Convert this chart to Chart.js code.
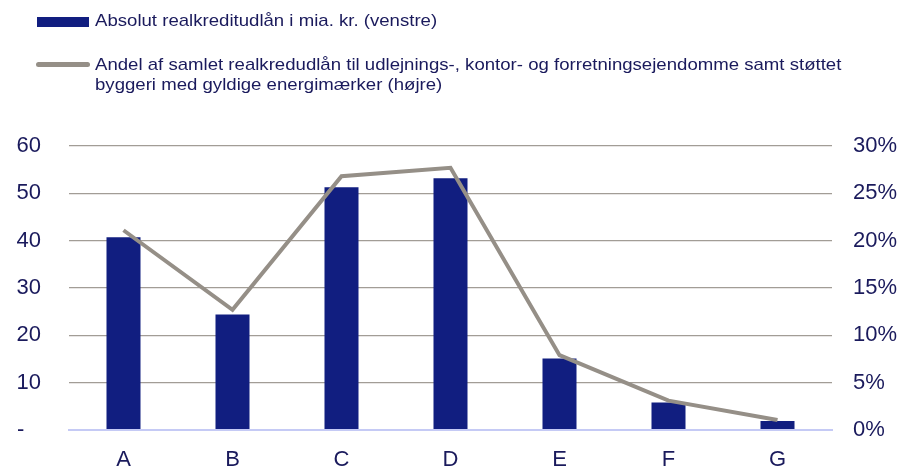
<!DOCTYPE html>
<html>
<head>
<meta charset="utf-8">
<script src="https://cdn.jsdelivr.net/npm/chart.js@4"></script>
<style>
    html, body { margin: 0; padding: 0; background: #ffffff; }
    #wrap { position: relative; width: 901px; height: 468px; }
    #grafico { position: absolute; left: 0; top: 0; }
    .leg { position: absolute; font-family: "Liberation Sans", Arial, sans-serif; font-size: 17px; line-height: 20px; color: #1a1a5c; white-space: nowrap; transform: scaleX(1.094); transform-origin: 0 0; }
    .legBar { position: absolute; left: 37px; top: 17px; width: 52px; height: 10px; background: #111e80; }
    .legLinje { position: absolute; left: 36px; top: 62px; width: 54px; height: 5px; border-radius: 3px; background: #958f87; }
</style>
</head>
<body>
<div id="wrap">
    <canvas id="grafico" width="901" height="468"></canvas>
    <div class="legBar"></div>
    <div class="leg" style="left:95px; top:11px;">Absolut realkreditudlån i mia. kr. (venstre)</div>
    <div class="legLinje"></div>
    <div class="leg" style="left:95px; top:55px;">Andel af samlet realkredudlån til udlejnings-, kontor- og forretningsejendomme samt støttet<br>byggeri med gyldige energimærker (højre)</div>
</div>
<script>
const kategorier = ['A', 'B', 'C', 'D', 'E', 'F', 'G'];
const udlaan = [40.7, 24.4, 51.3, 53.2, 15.1, 5.8, 1.9];
const andel = [21.1, 12.7, 26.8, 27.7, 7.9, 3.1, 1.05];
const venstreTicks = [0, 10, 20, 30, 40, 50, 60];
const hoejreTicks = [0, 5, 10, 15, 20, 25, 30];

const tekstFarve = '#1a1a5c';
const gitterFarve = '#a29d96';
const nulFarve = '#c5caf5';
const skrift = { family: '"Liberation Sans", Arial, sans-serif', size: 22 };

// fast bredde på y-akserne, og ingen ekstra luft over/under plotområdet
function fastBredde(scale) {
    scale.width = 69;
    scale.paddingTop = 0;
    scale.paddingBottom = 0;
}

const ctx = document.getElementById('grafico').getContext('2d');

const grafico = new Chart(ctx, {
    data: {
        labels: kategorier,
        datasets: [{
            type: 'line',
            label: 'Andel',
            data: andel,
            yAxisID: 'y1',
            borderColor: '#958f87',
            borderWidth: 4,
            pointRadius: 0,
            tension: 0,
            order: 0
        }, {
            type: 'bar',
            label: 'Udlån',
            data: udlaan,
            yAxisID: 'y',
            backgroundColor: '#111e80',
            categoryPercentage: 1,
            barPercentage: 0.312,
            order: 1
        }]
    },
    options: {
        responsive: false,
        animation: false,
        layout: { padding: { top: 146, bottom: 0, left: 0, right: 0 } },
        plugins: {
            legend: { display: false },
            tooltip: { enabled: false }
        },
        scales: {
            x: {
                grid: { display: false },
                border: { color: nulFarve, width: 2 },
                ticks: { color: tekstFarve, font: skrift, padding: 9 },
                afterFit: function (scale) { scale.height = 38; }
            },
            y: {
                position: 'left',
                min: 0,
                max: 60,
                afterBuildTicks: function (scale) { scale.ticks = venstreTicks.map(v => ({ value: v })); },
                grid: {
                    color: c => c.tick.value === 0 ? nulFarve : gitterFarve,
                    lineWidth: c => c.tick.value === 0 ? 2 : 1.2,
                    drawTicks: false
                },
                border: { display: false },
                ticks: {
                    color: tekstFarve,
                    font: skrift,
                    padding: 28,
                    callback: v => v === 0 ? '-  \u2009' : v
                },
                afterFit: fastBredde
            },
            y1: {
                position: 'right',
                min: 0,
                max: 30,
                afterBuildTicks: function (scale) { scale.ticks = hoejreTicks.map(v => ({ value: v })); },
                grid: { drawOnChartArea: false, drawTicks: false },
                border: { display: false },
                ticks: {
                    color: tekstFarve,
                    font: skrift,
                    padding: 21,
                    callback: v => v + '%'
                },
                afterFit: fastBredde
            }
        }
    }
});
</script>
</body>
</html>
